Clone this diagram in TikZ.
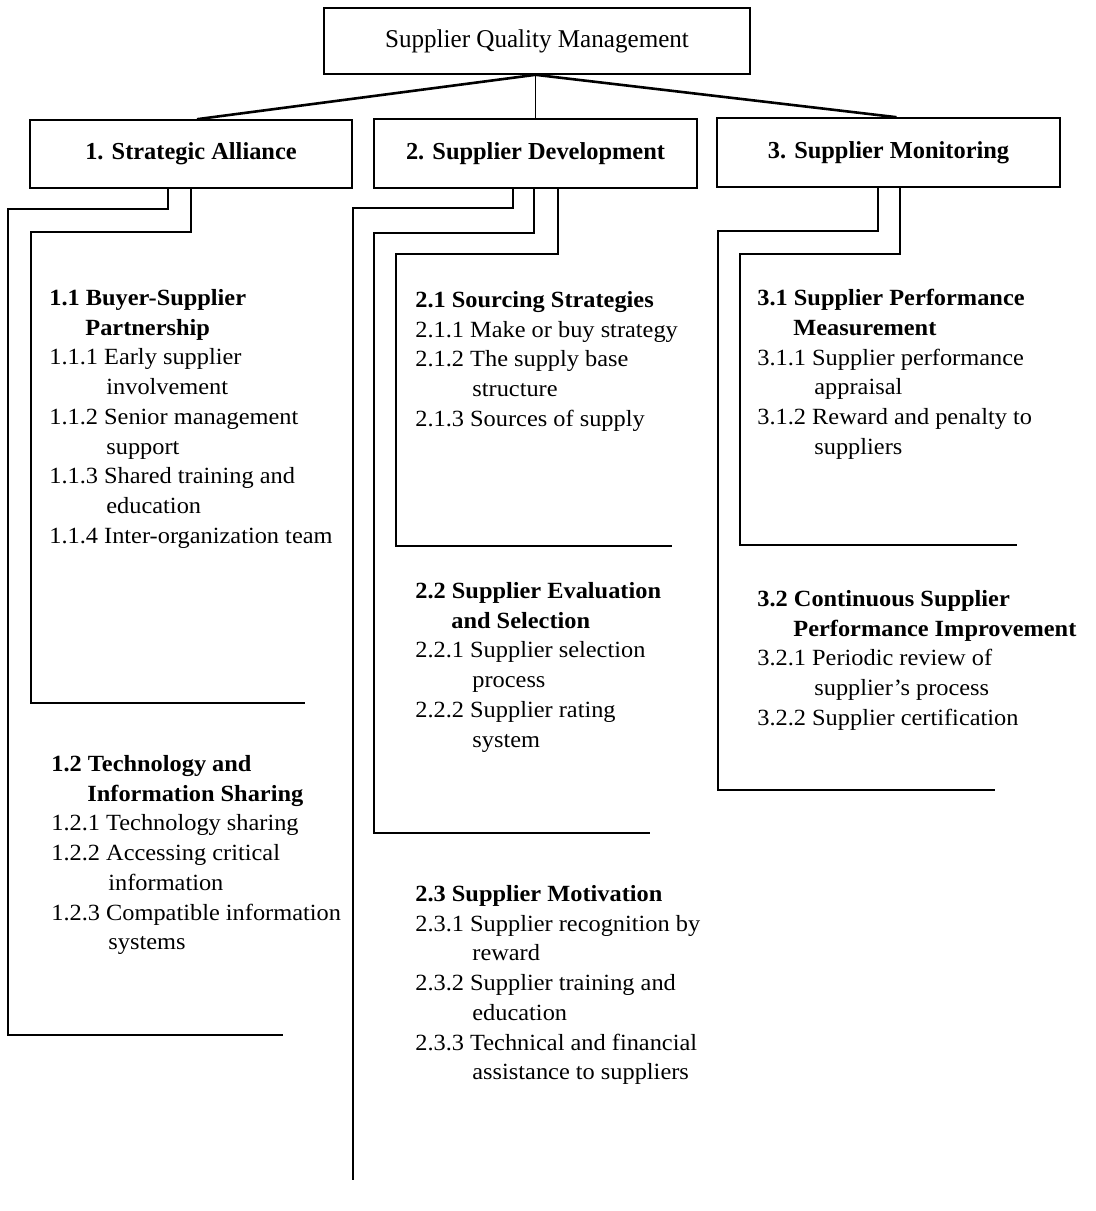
\documentclass[tikz,border=0pt]{standalone}
\usepackage{fontspec}
\setmainfont{Liberation Serif}
\newfontfamily\bodyf{Liberation Serif}[FakeStretch=1.05]
\newfontfamily\lblf{Liberation Serif}
\newfontfamily\topf{Liberation Serif}[FakeStretch=0.98]
\newcommand\ind{\hspace*{28.5pt}}
\newcommand\hind{\hspace*{18pt}}
\begin{document}
\begin{tikzpicture}[x=0.5pt,y=-0.5pt,
  boxnode/.style={draw,line width=0.8pt,inner sep=0pt,align=center},
  lbl/.style={font=\lblf\bfseries\fontsize{12.2}{14}\selectfont},
  sect/.style={anchor=north west,inner sep=0pt,align=left,
    font=\bodyf\fontsize{11.6}{14.85}\selectfont},
  conn/.style={line width=0.8pt},
  diag/.style={line width=1.3pt},
  ]
\useasboundingbox (0,0) rectangle (1096,1211);

% boxes
\node[boxnode,minimum width=213pt,minimum height=33pt,
  font=\topf\fontsize{12.8}{15}\selectfont] (top) at (537,41) {Supplier Quality Management};
\node[boxnode,lbl,minimum width=161pt,minimum height=34pt] (b1) at (191,154) {1. Strategic Alliance};
\node[boxnode,lbl,minimum width=161.5pt,minimum height=34.5pt] (b2) at (535.5,153.5) {2. Supplier Development};
\node[boxnode,lbl,minimum width=171.5pt,minimum height=34.5pt] (b3) at (888.5,152.5) {3. Supplier Monitoring};

% top connectors
\coordinate (root) at (top.south -| b2.north);
\draw[diag] (root) -- ([xshift=3pt]b1.north);
\draw[line width=0.6pt] (root) -- (b2.north);
\draw[diag] (root) -- ([xshift=4pt]b3.north);

% section texts
\node[sect] (s11) at (49,289) {%
\textbf{1.1 Buyer-Supplier}\\
\hind\textbf{Partnership}\\
1.1.1 Early supplier\\
\ind involvement\\
1.1.2 Senior management\\
\ind support\\
1.1.3 Shared training and\\
\ind education\\
1.1.4 Inter-organization team};

\node[sect] (s12) at (51,755) {%
\textbf{1.2 Technology and}\\
\hind\textbf{Information Sharing}\\
1.2.1 Technology sharing\\
1.2.2 Accessing critical\\
\ind information\\
1.2.3 Compatible information\\
\ind systems};

\node[sect] (s21) at (415,291) {%
\textbf{2.1 Sourcing Strategies}\\
2.1.1 Make or buy strategy\\
2.1.2 The supply base\\
\ind structure\\
2.1.3 Sources of supply};

\node[sect] (s22) at (415,582) {%
\textbf{2.2 Supplier Evaluation}\\
\hind\textbf{and Selection}\\
2.2.1 Supplier selection\\
\ind process\\
2.2.2 Supplier rating\\
\ind system};

\node[sect] (s23) at (415,885) {%
\textbf{2.3 Supplier Motivation}\\
2.3.1 Supplier recognition by\\
\ind reward\\
2.3.2 Supplier training and\\
\ind education\\
2.3.3 Technical and financial\\
\ind assistance to suppliers};

\node[sect] (s31) at (757,289) {%
\textbf{3.1 Supplier Performance}\\
\hind\textbf{Measurement}\\
3.1.1 Supplier performance\\
\ind appraisal\\
3.1.2 Reward and penalty to\\
\ind suppliers};

\node[sect] (s32) at (757,590) {%
\textbf{3.2 Continuous Supplier}\\
\hind\textbf{Performance Improvement}\\
3.2.1 Periodic review of\\
\ind supplier’s process\\
3.2.2 Supplier certification};

% bracket coordinates
\coordinate (t12) at (168,209); \coordinate (c12) at (8,1035);   \coordinate (e12) at (283,1035);
\coordinate (t11) at (191,232); \coordinate (c11) at (31,703);   \coordinate (e11) at (305,703);
\coordinate (t23) at (513,208); \coordinate (e23) at (353,1180);
\coordinate (t22) at (534,233); \coordinate (c22) at (374,833);  \coordinate (e22) at (650,833);
\coordinate (t21) at (558,254); \coordinate (c21) at (396,546);  \coordinate (e21) at (672,546);
\coordinate (t32) at (878,231); \coordinate (c32) at (718,790);  \coordinate (e32) at (995,790);
\coordinate (t31) at (900,254); \coordinate (c31) at (740,545);  \coordinate (e31) at (1017,545);

% brackets
\draw[conn] (b1.south -| t12) -- (t12) -| (c12) -- (e12);
\draw[conn] (b1.south -| t11) -- (t11) -| (c11) -- (e11);
\draw[conn] (b2.south -| t23) -- (t23) -| (e23);
\draw[conn] (b2.south -| t22) -- (t22) -| (c22) -- (e22);
\draw[conn] (b2.south -| t21) -- (t21) -| (c21) -- (e21);
\draw[conn] (b3.south -| t32) -- (t32) -| (c32) -- (e32);
\draw[conn] (b3.south -| t31) -- (t31) -| (c31) -- (e31);
\end{tikzpicture}
\end{document}
